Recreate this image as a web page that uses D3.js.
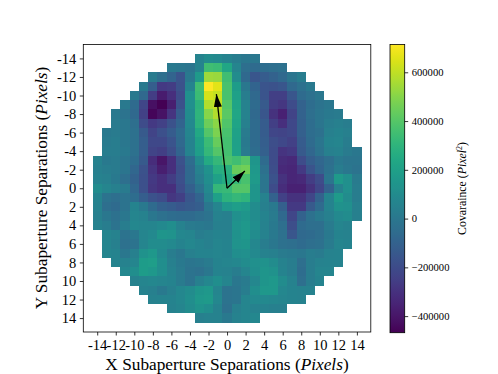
<!DOCTYPE html>
<html>
<head>
<meta charset="utf-8">
<script src="https://cdn.jsdelivr.net/npm/d3@7"></script>
<style>
body { margin: 0; background: #fff; }
text { font-family: "Liberation Serif", serif; fill: #000; }
</style>
</head>
<body>
<div id="my_dataviz"></div>
<script>
const width = 498;
const height = 374;

const tickLabels = d3.range(-14, 15, 2);
const colorbarTicks = [-400000, -200000, 0, 200000, 400000, 600000];
const colorRange = [-468000, 714000];
const arrowTips = [[1.92, -1.85], [-1.15, -10.15]];

// y separation of each row
const rowY = d3.range(-14, 15);
// x separation of the first cell in each row
const rowStartX = [-3, -6, -8, -9, -10, -11, -12, -12, -13, -13, -13, -14, -14, -14, -14, -14, -14, -14, -14, -13, -13, -13, -12, -11, -10, -9, -8, -6, -3];
// covariance in thousands, one list per row
const covariance = [
  [60, 100, 90, 60, 30, 0, 0],
  [10, 0, -10, 60, 350, 340, 230, 70, -40, -60, -50, -40, -30],
  [20, -40, -90, -160, 10, 170, 540, 530, 350, 100, -70, -150, -130, -100, -70, -10, 30],
  [10, -120, -270, -260, -170, 60, 350, 714, 660, 370, 180, 0, -90, -160, -170, -150, -70, -30, 10],
  [10, -70, -260, -380, -310, -200, 120, 340, 640, 610, 370, 200, 30, -70, -160, -250, -250, -150, -60, -30, 0],
  [10, -60, -220, -420, -468, -370, -170, 120, 290, 580, 600, 400, 220, 50, -60, -140, -260, -280, -200, -100, -50, -20, 0],
  [10, -20, -70, -240, -450, -410, -290, -130, 100, 300, 500, 580, 410, 230, 50, -70, -150, -300, -360, -230, -100, -40, -10, 10, 20],
  [20, 0, -40, -200, -270, -240, -170, -90, 90, 290, 450, 510, 390, 220, 40, -60, -130, -250, -310, -210, -110, -50, -10, 30, 40, 30],
  [10, 20, 0, -30, -140, -230, -180, -130, -60, 70, 240, 400, 480, 370, 210, 20, -60, -130, -220, -230, -210, -110, -50, -30, 40, 60, 40],
  [20, 30, 0, -30, -120, -210, -210, -160, -70, 60, 210, 340, 440, 360, 200, 10, -60, -120, -190, -210, -240, -130, -60, -10, 60, 70, 30],
  [30, 30, 10, -30, -120, -230, -250, -190, -90, 60, 190, 320, 400, 360, 210, 20, -50, -110, -200, -290, -270, -140, -80, -20, 40, 50, 20, 0],
  [50, 10, 20, -10, -50, -140, -320, -400, -310, -170, -50, 100, 250, 320, 380, 350, 400, 150, -60, -200, -320, -330, -200, -120, -80, -40, 10, -10, -10],
  [40, 30, 20, -10, -80, -170, -290, -370, -310, -190, -70, 50, 130, 270, 280, 440, 460, 160, -30, -190, -330, -340, -270, -160, -90, -30, 30, 0, -20],
  [50, 40, 10, -40, -100, -180, -270, -310, -260, -180, -70, 30, 110, 210, 260, 330, 370, 170, -10, -170, -300, -340, -330, -260, -200, -10, 170, 120, 20],
  [100, 70, 40, 20, -80, -180, -280, -310, -310, -200, -110, -20, 90, 320, 330, 400, 400, 150, -10, -200, -320, -360, -360, -300, -220, -100, 50, 120, 30],
  [60, -20, -40, -20, -50, -120, -170, -200, -280, -250, -150, -90, 60, 200, 290, 320, 300, 150, 50, -100, -240, -300, -300, -220, -100, 60, 170, 100, 30],
  [50, -40, -60, -20, 60, 10, -60, -110, -130, -150, -140, -120, 0, 70, 160, 190, 170, 100, 40, 10, -110, -270, -270, -140, -60, 60, 130, 120, 40],
  [40, 0, -30, 0, 70, 50, 0, -30, -50, -60, -60, -40, -20, 50, 40, 120, 150, 100, 60, 20, -70, -220, -100, -30, 10, 40, 90, 100, 40],
  [50, 30, -20, 30, 80, 70, 70, 90, 110, 50, 20, 10, 0, 40, 40, 140, 160, 110, 50, 10, -40, -190, -60, -40, -40, 20, 70, 50],
  [70, 50, -20, 0, 70, 90, 150, 140, 80, 70, 30, 40, 60, 50, 130, 160, 100, 50, 10, -30, -150, -70, -60, -40, 10, 60, 50],
  [70, 40, -30, -20, 70, 100, 100, 90, 60, 80, 60, 40, 70, 60, 140, 150, 80, 30, 0, -30, -40, -60, -40, -30, 20, 70, 60],
  [70, 60, 0, 40, 130, 160, 90, 30, 0, 40, 60, 60, 70, 60, 110, 120, 90, 50, 40, 20, 10, 0, 30, 20, 50, 60],
  [60, 50, 70, 180, 190, 110, 40, 10, -10, 0, 20, 60, 70, 80, 100, 120, 130, 100, 50, 30, -40, 30, 50, 60, 60],
  [80, 110, 180, 160, 110, 50, 20, -20, -30, 0, 60, 50, 30, 70, 110, 150, 130, 60, 30, -50, 30, 70, 70],
  [50, 70, 80, 70, 60, 20, -20, 40, 80, 110, 70, 0, 20, 80, 150, 160, 100, 50, -40, 30, 60],
  [50, 40, 10, 40, 80, 100, 150, 160, 70, -20, -10, 30, 110, 160, 160, 80, 60, 50, 50],
  [50, 60, 60, 80, 110, 160, 170, 80, -20, -10, 70, 90, 90, 80, 70, 60, 50],
  [50, 70, 100, 140, 110, 50, -30, 40, 70, 50, 50, 40, 40],
  [40, 50, 50, 10, 50, 70, 80]
];

const cells = covariance.flatMap((row, i) =>
  row.map((v, j) => ({ x: rowStartX[i] + j, y: rowY[i], value: v * 1000 })));

const svg = d3.select('#my_dataviz')
  .append('svg')
    .attr('width', width)
    .attr('height', height);

const x = d3.scaleLinear().domain([-15.5, 15.5]).range([83.3, 370.8]);
const y = d3.scaleLinear().domain([-15.5, 15.5]).range([44.5, 332]);
const color = d3.scaleSequential(d3.interpolateViridis).domain(colorRange);

svg.append('g')
  .selectAll('rect')
  .data(cells)
  .enter()
  .append('rect')
    .attr('x', d => x(d.x - 0.5))
    .attr('y', d => y(d.y - 0.5))
    .attr('width', x(1) - x(0))
    .attr('height', y(1) - y(0))
    .attr('shape-rendering', 'crispEdges')
    .attr('fill', d => color(d.value));

// arrows start at zero separation
const defs = svg.append('defs');
defs.append('marker')
    .attr('id', 'head')
    .attr('markerUnits', 'userSpaceOnUse')
    .attr('viewBox', '0 0 13 8')
    .attr('refX', 13)
    .attr('refY', 4)
    .attr('markerWidth', 13)
    .attr('markerHeight', 8)
    .attr('orient', 'auto')
  .append('path')
    .attr('d', 'M0,0L13,4L0,8Z')
    .attr('fill', '#000');

svg.append('g')
  .selectAll('line')
  .data(arrowTips)
  .enter()
  .append('line')
    .attr('x1', x(0))
    .attr('y1', y(0))
    .attr('x2', d => x(d[0]))
    .attr('y2', d => y(d[1]))
    .attr('stroke', '#000')
    .attr('stroke-width', 1.3)
    .attr('marker-end', 'url(#head)');

const xAxis = d3.axisBottom(x).tickValues(tickLabels).tickSize(3.5).tickPadding(4.5).tickFormat(d => String(d));
const yAxis = d3.axisLeft(y).tickValues(tickLabels).tickSize(3.5).tickPadding(3.5).tickFormat(d => String(d));

const gx = svg.append('g').attr('transform', 'translate(0,332)').call(xAxis);
const gy = svg.append('g').attr('transform', 'translate(83.3,0)').call(yAxis);
[gx, gy].forEach(g => {
  g.select('.domain').remove();
  g.selectAll('line').attr('stroke', '#000').attr('stroke-width', 0.8);
  g.selectAll('text').style('font-size', '14.5px').attr('fill', '#000');
});

svg.append('rect')
    .attr('x', 83.3)
    .attr('y', 44.5)
    .attr('width', 287.5)
    .attr('height', 287.5)
    .attr('fill', 'none')
    .attr('stroke', '#000')
    .attr('stroke-width', 0.8);

const xLabel = svg.append('text')
    .attr('x', 227)
    .attr('y', 370)
    .attr('text-anchor', 'middle')
    .style('font-size', '17.3px');
xLabel.append('tspan').text('X Subaperture Separations (');
xLabel.append('tspan').attr('font-style', 'italic').text('Pixels');
xLabel.append('tspan').text(')');

const yLabel = svg.append('text')
    .attr('transform', 'translate(47,188) rotate(-90)')
    .attr('text-anchor', 'middle')
    .style('font-size', '17.3px');
yLabel.append('tspan').text('Y Subaperture Separations (');
yLabel.append('tspan').attr('font-style', 'italic').text('Pixels');
yLabel.append('tspan').text(')');

// colorbar
const cbar = d3.scaleLinear().domain(colorRange).range([332.7, 44.5]);

const gradient = defs.append('linearGradient')
    .attr('id', 'viridis')
    .attr('x1', 0).attr('y1', 1)
    .attr('x2', 0).attr('y2', 0);
gradient.selectAll('stop')
  .data(d3.range(0, 1.001, 0.02))
  .enter()
  .append('stop')
    .attr('offset', d => d)
    .attr('stop-color', d => d3.interpolateViridis(d));

svg.append('rect')
    .attr('x', 390)
    .attr('y', 44.5)
    .attr('width', 14.7)
    .attr('height', 288.2)
    .attr('fill', 'url(#viridis)')
    .attr('stroke', '#000')
    .attr('stroke-width', 0.8);

const gc = svg.append('g')
    .attr('transform', 'translate(404.7,0)')
    .call(d3.axisRight(cbar).tickValues(colorbarTicks).tickSize(3.5).tickPadding(3.5)
      .tickFormat(d => (d < 0 ? '\u2212' : '') + Math.abs(d)));
gc.select('.domain').remove();
gc.selectAll('line').attr('stroke', '#000').attr('stroke-width', 0.8);
gc.selectAll('text').style('font-size', '10.6px').attr('fill', '#000');

const cLabel = svg.append('text')
    .attr('transform', 'translate(466,188.5) rotate(-90)')
    .attr('text-anchor', 'middle')
    .style('font-size', '11.8px');
cLabel.append('tspan').text('Covaraince (');
cLabel.append('tspan').attr('font-style', 'italic').text('Pixel');
cLabel.append('tspan').attr('dy', -4).style('font-size', '8px').text('2');
cLabel.append('tspan').attr('dy', 4).text(')');
</script>
</body>
</html>
